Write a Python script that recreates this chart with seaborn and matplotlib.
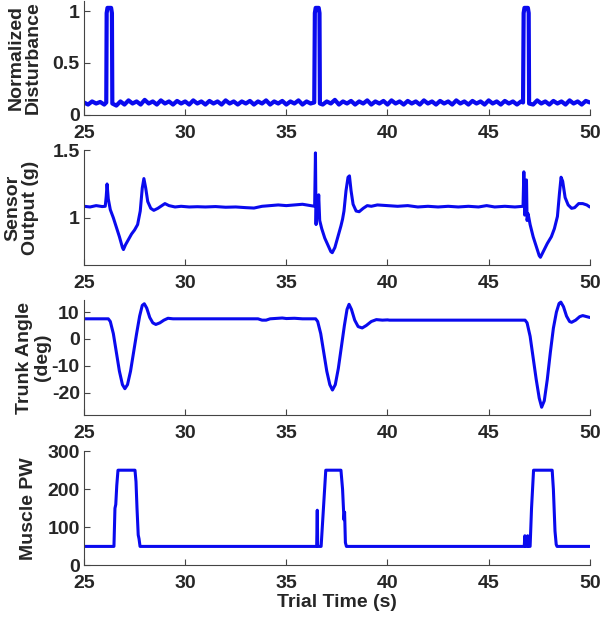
import numpy as np
import pandas as pd
import matplotlib
matplotlib.use("Agg")
import matplotlib.pyplot as plt
import seaborn as sns

# ============================ Data ============================
# Normalized disturbance: noisy baseline with three short pulses
dist_t = [25.0, 25.2, 25.4, 25.6, 25.8, 26.0, 26.10, 26.12, 26.16, 26.34, 26.38, 26.40,
          26.6, 26.8, 27.0, 27.2, 27.4, 27.6, 27.8, 28.0, 28.2, 28.4,
          28.6, 28.8, 29.0, 29.2, 29.4, 29.6, 29.8, 30.0, 30.2, 30.4,
          30.6, 30.8, 31.0, 31.2, 31.4, 31.6, 31.8, 32.0, 32.2, 32.4,
          32.6, 32.8, 33.0, 33.2, 33.4, 33.6, 33.8, 34.0, 34.2, 34.4,
          34.6, 34.8, 35.0, 35.2, 35.4, 35.6, 35.8, 36.0, 36.2,
          36.38, 36.41, 36.45, 36.60, 36.64, 36.66,
          36.8, 37.0, 37.2, 37.4, 37.6, 37.8, 38.0, 38.2, 38.4, 38.6,
          38.8, 39.0, 39.2, 39.4, 39.6, 39.8, 40.0, 40.2, 40.4, 40.6,
          40.8, 41.0, 41.2, 41.4, 41.6, 41.8, 42.0, 42.2, 42.4, 42.6,
          42.8, 43.0, 43.2, 43.4, 43.6, 43.8, 44.0, 44.2, 44.4, 44.6,
          44.8, 45.0, 45.2, 45.4, 45.6, 45.8, 46.0, 46.2, 46.4, 46.6,
          46.70, 46.73, 46.77, 46.94, 46.98, 47.00,
          47.2, 47.4, 47.6, 47.8, 48.0, 48.2, 48.4, 48.6, 48.8, 49.0,
          49.2, 49.4, 49.6, 49.8, 50.0]
dist_v = [0.12, 0.10, 0.13, 0.11, 0.125, 0.10, 0.12, 0.98, 1.03, 1.03, 0.98, 0.11,
          0.09, 0.13, 0.10, 0.14, 0.11, 0.13, 0.10, 0.145, 0.11, 0.13,
          0.10, 0.14, 0.11, 0.13, 0.10, 0.135, 0.11, 0.13, 0.10, 0.14,
          0.11, 0.13, 0.10, 0.135, 0.11, 0.13, 0.10, 0.14, 0.11, 0.13,
          0.10, 0.13, 0.11, 0.135, 0.10, 0.13, 0.11, 0.14, 0.10, 0.13,
          0.11, 0.135, 0.10, 0.13, 0.11, 0.14, 0.10, 0.13, 0.11,
          0.12, 0.98, 1.03, 1.03, 0.98, 0.11,
          0.10, 0.13, 0.11, 0.145, 0.10, 0.13, 0.11, 0.135, 0.10, 0.13,
          0.11, 0.14, 0.10, 0.13, 0.11, 0.135, 0.10, 0.14, 0.11, 0.13,
          0.10, 0.135, 0.11, 0.13, 0.10, 0.14, 0.11, 0.13, 0.10, 0.135,
          0.11, 0.13, 0.10, 0.14, 0.11, 0.13, 0.10, 0.135, 0.11, 0.13,
          0.10, 0.14, 0.11, 0.13, 0.10, 0.135, 0.11, 0.13, 0.10, 0.13,
          0.12, 0.98, 1.03, 1.03, 0.98, 0.11,
          0.10, 0.14, 0.11, 0.13, 0.10, 0.135, 0.11, 0.13, 0.10, 0.14,
          0.11, 0.13, 0.10, 0.135, 0.12]

# Sensor output (g)
sens_t = [25.0, 25.3, 25.6, 25.9, 26.05, 26.10, 26.14, 26.20, 26.30, 26.45,
          26.60, 26.75, 26.90, 26.95, 27.05, 27.20, 27.35, 27.50, 27.65, 27.78,
          27.88, 27.96, 28.05, 28.15, 28.30, 28.45, 28.65, 28.85, 29.0, 29.2,
          29.5, 29.8, 30.2, 30.6, 31.0, 31.5, 32.0, 32.5, 33.0, 33.4,
          33.8, 34.2, 34.6, 35.0, 35.4, 35.8, 36.2, 36.40,
          36.44, 36.47, 36.50, 36.55, 36.60, 36.65, 36.75, 36.9, 37.05, 37.2,
          37.27, 37.4, 37.55, 37.7, 37.78, 37.85, 37.95, 38.05, 38.12, 38.2,
          38.3, 38.45, 38.6, 38.8, 39.0, 39.2, 39.5, 40.0, 40.5, 41.0,
          41.5, 42.0, 42.5, 43.0, 43.5, 44.0, 44.5, 44.9, 45.3, 45.8,
          46.3, 46.70,
          46.74, 46.78, 46.82, 46.87, 46.90, 46.95, 47.05, 47.2, 47.35, 47.5,
          47.56, 47.7, 47.9, 48.1, 48.25, 48.4, 48.5, 48.58, 48.66, 48.78,
          48.93, 49.1, 49.25, 49.45, 49.65, 49.85, 50.0]
sens_v = [1.085, 1.08, 1.09, 1.083, 1.085, 1.16, 1.25, 1.14, 1.06, 1.00,
          0.93, 0.86, 0.78, 0.765, 0.80, 0.84, 0.88, 0.91, 0.95, 1.05,
          1.22, 1.29, 1.22, 1.12, 1.07, 1.055, 1.07, 1.09, 1.105, 1.09,
          1.08, 1.085, 1.08, 1.082, 1.08, 1.083, 1.078, 1.08, 1.075, 1.072,
          1.085, 1.09, 1.095, 1.09, 1.095, 1.10, 1.09, 1.085,
          1.48, 0.95, 1.15, 1.00, 1.17, 0.98, 0.92, 0.85, 0.80, 0.75,
          0.742, 0.78, 0.86, 0.94, 0.99, 1.05, 1.20, 1.30, 1.31, 1.20,
          1.10, 1.05, 1.045, 1.07, 1.09, 1.085, 1.095, 1.09, 1.085, 1.09,
          1.08, 1.085, 1.08, 1.085, 1.08, 1.085, 1.08, 1.09, 1.08, 1.085,
          1.08, 1.085,
          1.34, 1.02, 1.05, 1.28, 0.98, 1.03, 0.95, 0.86, 0.79, 0.72,
          0.708, 0.75, 0.81, 0.86, 0.92, 1.01, 1.18, 1.30, 1.27, 1.15,
          1.095, 1.07, 1.075, 1.105, 1.105, 1.095, 1.08]

# Trunk angle (deg)
trunk_t = [25.0, 26.2, 26.3, 26.45, 26.6, 26.75, 26.9, 27.02, 27.15, 27.3,
           27.45, 27.6, 27.75, 27.88, 27.98, 28.1, 28.25, 28.4, 28.55, 28.75,
           28.95, 29.15, 29.4, 33.6, 33.8, 34.0, 34.2, 34.8, 35.0, 35.4,
           35.8, 36.45,
           36.55, 36.7, 36.85, 37.0, 37.15, 37.28, 37.42, 37.57, 37.72, 37.87,
           38.0, 38.1, 38.22, 38.38, 38.55, 38.75, 38.95, 39.2, 39.45, 39.75,
           40.0, 40.1, 46.8,
           46.9, 47.05, 47.2, 47.35, 47.5, 47.62, 47.75, 47.9, 48.05, 48.2,
           48.35, 48.48, 48.57, 48.7, 48.85, 49.0, 49.1, 49.3, 49.5, 49.65,
           49.8, 50.0]
trunk_v = [7.5, 7.5, 6.5, 2.0, -5.0, -12.0, -17.0, -18.5, -17.0, -12.0,
           -5.0, 2.0, 8.5, 12.5, 13.1, 11.5, 8.0, 6.0, 5.4, 6.0,
           7.0, 7.7, 7.5, 7.5, 7.0, 7.0, 7.5, 7.8, 7.6, 7.7,
           7.5, 7.5,
           6.5, 2.0, -5.0, -12.0, -17.0, -19.0, -17.0, -11.0, -3.0, 5.0,
           11.0, 12.9, 11.0, 7.0, 4.6, 4.1, 5.0, 6.5, 7.2, 7.0,
           7.1, 7.0, 7.0,
           6.0, 1.0, -7.0, -15.0, -22.0, -25.4, -23.0, -15.0, -5.0, 4.0,
           10.0, 13.2, 13.7, 12.0, 8.5, 6.5, 6.2, 7.0, 8.3, 8.7,
           8.4, 8.0]

# Muscle pulse width
pw_t = [25.0, 26.48, 26.53, 26.57, 26.62, 26.68, 27.52, 27.57, 27.62, 27.68,
        27.72, 27.77, 36.50, 36.53, 36.55, 36.72, 36.95, 37.70, 37.78, 37.85,
        37.88, 37.92, 37.97, 46.76, 46.79, 46.83, 46.90, 46.93, 46.97, 47.05,
        47.12, 47.22, 48.14, 48.20, 48.28, 48.34, 48.38, 50.0]
pw_v = [50, 50, 150, 160, 210, 250, 250, 220, 150, 80,
        70, 50, 50, 145, 50, 50, 250, 250, 200, 120,
        140, 60, 50, 50, 78, 50, 50, 78, 50, 50,
        150, 250, 250, 200, 90, 55, 50, 50]

ylabels = ["Normalized\nDisturbance", "Sensor\nOutput (g)", "Trunk Angle\n(deg)", "Muscle PW"]
yticks = [[0, 0.5, 1], [1, 1.5], [-20, -10, 0, 10], [0, 100, 200, 300]]
ytick_labels = [["0", "0.5", "1"], ["1", "1.5"], ["-20", "-10", "0", "10"], ["0", "100", "200", "300"]]
ylims = [(0, 1.1), (0.65, 1.5), (-28.4, 14.6), (0, 300)]
xticks = [25, 30, 35, 40, 45, 50]

series = [(dist_t, dist_v), (sens_t, sens_v), (trunk_t, trunk_v), (pw_t, pw_v)]

# ============================ Plot ============================
sns.set_style("ticks")
plt.rcParams['font.family'] = ['Liberation Sans', 'DejaVu Sans']
plt.rcParams['font.weight'] = 'bold'

fig, axes = plt.subplots(4, 1, figsize=(6, 6.18), dpi=100)
# [bottom, top] of each panel in figure fraction
boxes = [(0.814, 0.999), (0.571, 0.757), (0.328, 0.515), (0.085, 0.270)]
label_x = [(42 - 84) / 506, (39 - 84) / 506, (51 - 84) / 506, (37 - 84) / 506]

for i, ax in enumerate(axes):
    b, t = boxes[i]
    ax.set_position([0.14, b, 0.983 - 0.14, t - b])
    df = pd.DataFrame({'t': series[i][0], 'v': series[i][1]})
    sns.lineplot(data=df, x='t', y='v', ax=ax, color='#0a0aee',
                 lw=3 if i == 0 else 2.2, estimator=None, sort=False)
    ax.set_xlim(25, 50)
    ax.set_ylim(*ylims[i])
    ax.set_xticks(xticks, labels=[str(x) for x in xticks])
    ax.set_yticks(yticks[i], labels=ytick_labels[i])
    ax.tick_params(direction='in', length=4.5, width=0.8, color='#444444',
                   labelsize=14)
    ax.tick_params(axis='x', pad=7)
    ax.tick_params(axis='y', pad=3)
    for lab in ax.get_xticklabels() + ax.get_yticklabels():
        lab.set_fontweight('bold')
    ax.set_ylabel(ylabels[i], fontsize=14, fontweight='bold', linespacing=1.05)
    ax.yaxis.set_label_coords(label_x[i], 0.5)
    ax.set_xlabel('')
    sns.despine(ax=ax)
    for s in ['left', 'bottom']:
        ax.spines[s].set_color('#444444')
        ax.spines[s].set_linewidth(0.8)

axes[3].set_xlabel('Trial Time (s)', fontsize=14, fontweight='bold', labelpad=1)

plt.savefig('out.png', dpi=100)
